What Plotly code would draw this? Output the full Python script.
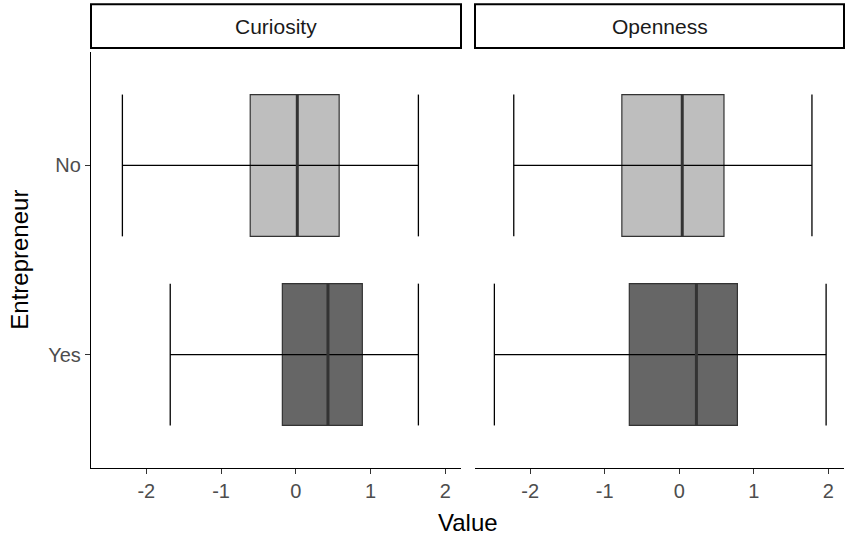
import plotly.graph_objects as go
from plotly.subplots import make_subplots

facets = ["Curiosity", "Openness"]
groups = ["No", "Yes"]
group_pos = [1, 0]
fills = ["#BEBEBE", "#666666"]

# per facet, per group (No, Yes)
lower = {"Curiosity": [-2.32, -1.68], "Openness": [-2.22, -2.48]}
q1 = {"Curiosity": [-0.61, -0.18], "Openness": [-0.77, -0.67]}
median = {"Curiosity": [0.02, 0.43], "Openness": [0.04, 0.23]}
q3 = {"Curiosity": [0.58, 0.89], "Openness": [0.60, 0.78]}
upper = {"Curiosity": [1.64, 1.64], "Openness": [1.78, 1.97]}

x_ticks = [-2, -1, 0, 1, 2]
x_tick_labels = ["-2", "-1", "0", "1", "2"]
box_w = 0.75

fig = make_subplots(rows=1, cols=2, shared_yaxes=True, horizontal_spacing=0.0186)

for c, f in enumerate(facets, start=1):
    for g in range(2):
        p = group_pos[g]
        fig.add_trace(go.Box(
            y=[p], q1=[q1[f][g]], median=[median[f][g]], q3=[q3[f][g]],
            lowerfence=[q1[f][g]], upperfence=[q3[f][g]],
            orientation="h", width=box_w, whiskerwidth=0,
            fillcolor=fills[g], line=dict(color="#333333", width=1.2),
            boxpoints=False, showlegend=False, hoverinfo="skip"), row=1, col=c)
    for g in range(2):
        p = group_pos[g]
        lo, hi = lower[f][g], upper[f][g]
        h = box_w / 2
        fig.add_trace(go.Scatter(
            x=[lo, hi, None, lo, lo, None, hi, hi],
            y=[p, p, None, p - h, p + h, None, p - h, p + h],
            mode="lines", line=dict(color="black", width=1.3),
            showlegend=False, hoverinfo="skip"), row=1, col=c)
        m = median[f][g]
        fig.add_trace(go.Scatter(
            x=[m, m], y=[p - h, p + h], mode="lines",
            line=dict(color="#333333", width=3),
            showlegend=False, hoverinfo="skip"), row=1, col=c)

dom1 = [0, 370 / 753]
dom2 = [384 / 753, 1]
tickfont = dict(family="Liberation Sans, Arial", size=20, color="#4D4D4D")
xcommon = dict(range=[-2.74, 2.21], tickvals=x_ticks, ticktext=x_tick_labels,
               ticks="outside", ticklen=5, automargin=False,
               tickcolor="#333333", tickwidth=1, showline=True, linecolor="black",
               linewidth=1.3, showgrid=False, zeroline=False, tickfont=tickfont)
fig.update_xaxes(**xcommon)
fig.update_layout(xaxis=dict(domain=dom1), xaxis2=dict(domain=dom2))
fig.update_yaxes(range=[-0.6, 1.6], showgrid=False, zeroline=False, automargin=False)
fig.update_layout(yaxis=dict(tickvals=group_pos, ticktext=groups, ticks="outside", ticklen=5,
                             tickcolor="#333333", showline=True, linecolor="black", linewidth=1.3,
                             tickfont=tickfont),
                  yaxis2=dict(showticklabels=False, showline=False, ticks=""))

shapes = []
annotations = []
for f, dom in zip(facets, [dom1, dom2]):
    shapes.append(dict(type="rect", xref="paper", yref="paper", x0=dom[0], x1=dom[1],
                       y0=1.0096, y1=1.115, line=dict(color="black", width=2),
                       fillcolor="white"))
    annotations.append(dict(text=f, xref="paper", yref="paper", x=(dom[0] + dom[1]) / 2,
                            y=1.062, showarrow=False, xanchor="center", yanchor="middle",
                            font=dict(family="Liberation Sans, Arial", size=21, color="#1A1A1A")))
annotations.append(dict(text="Value", xref="paper", yref="paper", x=0.5, y=-0.13,
                        showarrow=False, xanchor="center", yanchor="middle",
                        font=dict(family="Liberation Sans, Arial", size=24, color="black")))
annotations.append(dict(text="Entrepreneur", xref="paper", yref="paper", x=-0.096, y=0.5,
                        textangle=-90, showarrow=False, xanchor="center", yanchor="middle",
                        font=dict(family="Liberation Sans, Arial", size=24, color="black")))

fig.update_layout(
    width=851, height=540, boxmode="overlay",
    margin=dict(l=91, r=7, t=52, b=72, autoexpand=False),
    plot_bgcolor="white", paper_bgcolor="white",
    shapes=shapes, annotations=annotations,
)
fig.write_html("out.html", config={"displayModeBar": False},
               post_script="document.body.style.margin='0';")
